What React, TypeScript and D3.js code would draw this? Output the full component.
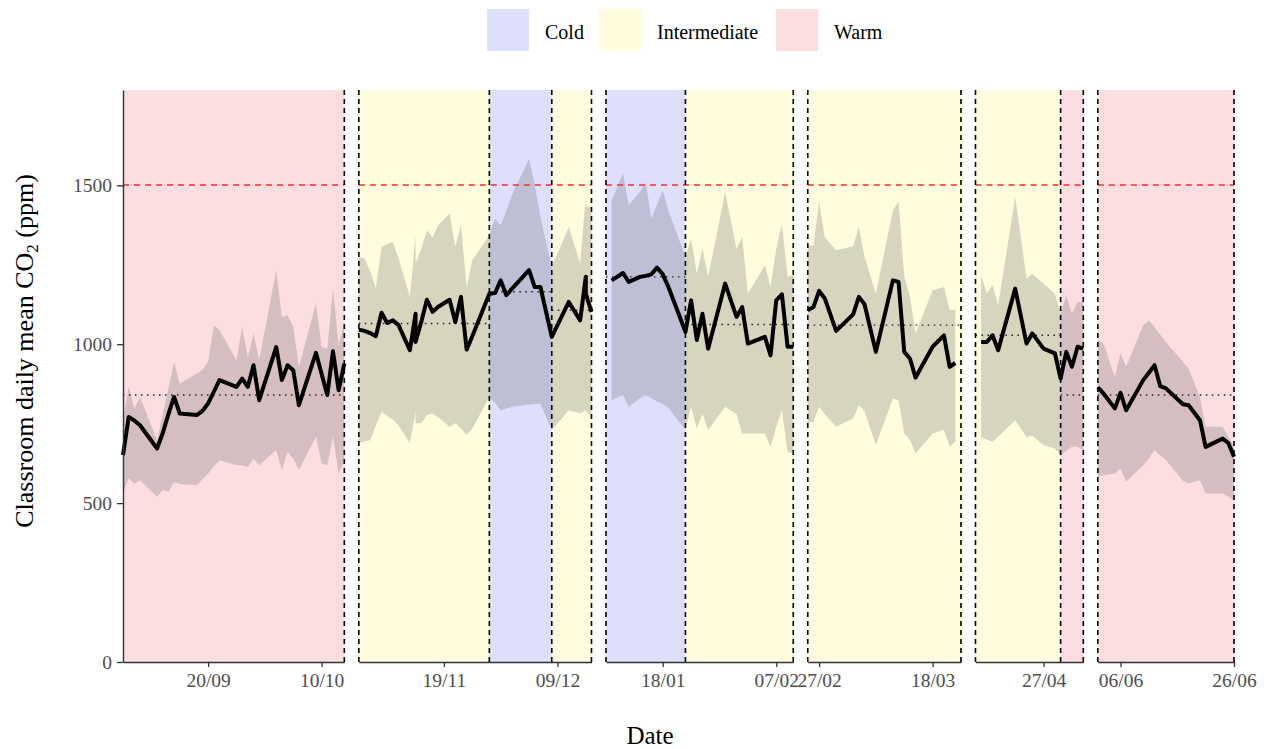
import React, { useEffect, useRef } from "react";
import * as d3 from "d3";

// Seasons used for the background shading
const seasons = ["Cold", "Intermediate", "Warm"];

// Season periods (start, end, season, period mean CO2)
const periodStart = ["2023-09-05", "2023-11-04", "2023-11-27", "2023-12-08", "2024-01-08", "2024-01-22", "2024-02-25", "2024-04-15", "2024-04-30", "2024-06-02"];
const periodEnd = ["2023-10-14", "2023-11-27", "2023-12-08", "2023-12-15", "2024-01-22", "2024-02-10", "2024-03-23", "2024-04-30", "2024-05-04", "2024-06-26"];
const periodSeason = ["Warm", "Intermediate", "Cold", "Intermediate", "Cold", "Intermediate", "Intermediate", "Intermediate", "Warm", "Warm"];
const periodMean = [840, 1065, 1165, 1107, 1212, 1062, 1060, 1028, 840, 840];

// Daily classroom CO2: dates, mean, lower and upper band
const dates = [
  "2023-09-05", "2023-09-06", "2023-09-07", "2023-09-08", "2023-09-11", "2023-09-12", "2023-09-13", "2023-09-14", "2023-09-15",
  "2023-09-18", "2023-09-19", "2023-09-20", "2023-09-21", "2023-09-22", "2023-09-25", "2023-09-26", "2023-09-27", "2023-09-28",
  "2023-09-29", "2023-10-02", "2023-10-03", "2023-10-04", "2023-10-05", "2023-10-06", "2023-10-09", "2023-10-10", "2023-10-11",
  "2023-10-12", "2023-10-13", "2023-10-14",
  "2023-11-04", "2023-11-05", "2023-11-06", "2023-11-07", "2023-11-08", "2023-11-09", "2023-11-10", "2023-11-11", "2023-11-13",
  "2023-11-14", "2023-11-14", "2023-11-15", "2023-11-16", "2023-11-17", "2023-11-18", "2023-11-20", "2023-11-21", "2023-11-22",
  "2023-11-23", "2023-11-24", "2023-11-27", "2023-11-28", "2023-11-29", "2023-11-30", "2023-12-01", "2023-12-04", "2023-12-05",
  "2023-12-06", "2023-12-08", "2023-12-11", "2023-12-13", "2023-12-14", "2023-12-14", "2023-12-15",
  "2024-01-09", "2024-01-11", "2024-01-12", "2024-01-14", "2024-01-15", "2024-01-16", "2024-01-17", "2024-01-18", "2024-01-19",
  "2024-01-22", "2024-01-23", "2024-01-24", "2024-01-25", "2024-01-26", "2024-01-29", "2024-01-31", "2024-02-01", "2024-02-02",
  "2024-02-05", "2024-02-06", "2024-02-07", "2024-02-08", "2024-02-09", "2024-02-10",
  "2024-02-25", "2024-02-26", "2024-02-27", "2024-02-28", "2024-03-01", "2024-03-04", "2024-03-05", "2024-03-06", "2024-03-08",
  "2024-03-11", "2024-03-12", "2024-03-13", "2024-03-14", "2024-03-15", "2024-03-18", "2024-03-20", "2024-03-21", "2024-03-22",
  "2024-04-16", "2024-04-17", "2024-04-18", "2024-04-19", "2024-04-22", "2024-04-24", "2024-04-25", "2024-04-27", "2024-04-29",
  "2024-04-30", "2024-05-01", "2024-05-02", "2024-05-03", "2024-05-04",
  "2024-06-02", "2024-06-03", "2024-06-05", "2024-06-06", "2024-06-07", "2024-06-10", "2024-06-11", "2024-06-12", "2024-06-13",
  "2024-06-14", "2024-06-17", "2024-06-18", "2024-06-20", "2024-06-21", "2024-06-24", "2024-06-25", "2024-06-26",
];
const meanCO2 = [
  651, 771, 760, 745, 672, 720, 780, 834, 782,
  777, 790, 814, 850, 887, 866, 892, 866, 934,
  824, 991, 887, 934, 918, 808, 973, 906, 840,
  978, 855, 939,
  1046, 1042, 1035, 1025, 1099, 1067, 1075, 1060, 981,
  1096, 1007, 1070, 1140, 1102, 1118, 1140, 1070, 1149,
  983, 1025, 1159, 1161, 1201, 1154, 1175, 1233, 1180,
  1180, 1023, 1133, 1075, 1212, 1159, 1102,
  1201, 1224, 1196, 1212, 1215, 1220, 1241, 1220, 1180,
  1039, 1138, 1013, 1096, 986, 1191, 1086, 1117, 1002,
  1023, 965, 1138, 1157, 992, 992,
  1107, 1117, 1168, 1144, 1042, 1094, 1149, 1126, 976,
  1201, 1196, 976, 955, 895, 992, 1028, 929, 941,
  1007, 1007, 1028, 981, 1175, 1002, 1034, 986, 971,
  892, 976, 929, 992, 986,
  864, 845, 798, 847, 792, 887, 910, 934, 868,
  861, 811, 808, 761, 677, 703, 689, 646,
];
const lowCO2 = [
  530, 578, 562, 572, 520, 541, 536, 567, 560,
  557, 575, 593, 615, 635, 620, 619, 614, 640,
  619, 667, 604, 661, 640, 604, 709, 625, 619,
  709, 593, 630,
  688, 695, 698, 745, 787, 775, 762, 745, 688,
  787, 751, 751, 777, 782, 770, 740, 751, 735,
  714, 735, 834, 815, 792, 798, 803, 810, 812,
  813, 730, 792, 782, 792, 790, 770,
  824, 840, 803, 830, 840, 830, 820, 813, 800,
  730, 803, 735, 782, 730, 803, 780, 719, 719,
  719, 677, 740, 792, 661, 656,
  751, 756, 803, 780, 740, 766, 808, 790, 682,
  829, 824, 719, 700, 656, 719, 730, 677, 693,
  708, 700, 693, 710, 761, 708, 713, 682, 672,
  651, 665, 677, 677, 667,
  583, 588, 593, 609, 567, 619, 640, 667, 650,
  635, 570, 562, 572, 530, 530, 520, 509,
];
const highCO2 = [
  760, 866, 798, 834, 698, 780, 860, 944, 876,
  908, 920, 945, 1060, 1044, 950, 1054, 960, 1034,
  950, 1233, 1086, 1091, 1054, 929, 1128, 992, 986,
  1175, 997, 1075,
  1275, 1270, 1230, 1175, 1306, 1315, 1322, 1270, 1149,
  1343, 1254, 1300, 1358, 1337, 1375, 1411, 1306, 1374,
  1180, 1264, 1343, 1395, 1374, 1420, 1470, 1584, 1500,
  1400, 1243, 1369, 1254, 1469, 1432, 1432,
  1453, 1537, 1437, 1480, 1510, 1395, 1440, 1484, 1420,
  1275, 1332, 1222, 1301, 1212, 1479, 1300, 1337, 1159,
  1248, 1180, 1300, 1379, 1212, 1218,
  1311, 1311, 1448, 1337, 1296, 1308, 1369, 1275, 1159,
  1421, 1448, 1212, 1150, 1034, 1170, 1180, 1107, 1109,
  1217, 1159, 1186, 1123, 1463, 1207, 1222, 1190, 1159,
  1097, 1154, 1097, 1133, 1133,
  1013, 1002, 897, 971, 929, 1060, 1075, 1054, 1030,
  1007, 945, 923, 834, 740, 740, 710, 677,
];

// Axis ticks
const xTickDates = ["2023-09-20", "2023-10-10", "2023-11-19", "2023-12-09", "2024-01-18", "2024-02-07", "2024-02-27", "2024-03-18", "2024-04-27", "2024-06-06", "2024-06-26"];
const yTicks = [0, 500, 1000, 1500];
const yMax = 1800;
const threshold = 1500;

const seasonFill: Record<string, string> = { Cold: "#DEDEFD", Intermediate: "#FFFDDE", Warm: "#FDDEE0" };

function App() {
  const ref = useRef<SVGSVGElement>(null);

  useEffect(() => {
    const svg = d3.select(ref.current);
    svg.selectAll("*").remove();

    const parse = d3.timeParse("%Y-%m-%d");
    const left = 123, right = 1234, top = 90, bottom = 662;
    const gap = 14.5;
    const font = "'Liberation Serif', 'Times New Roman', serif";

    const periods = periodStart.map((s, i) => ({
      start: parse(s)!, end: parse(periodEnd[i])!, season: periodSeason[i], mean: periodMean[i],
    }));

    // group contiguous periods into panels
    const panels: { start: Date; end: Date; periods: typeof periods }[] = [];
    periods.forEach(p => {
      const last = panels[panels.length - 1];
      if (last && +last.end === +p.start) {
        last.end = p.end;
        last.periods.push(p);
      } else {
        panels.push({ start: p.start, end: p.end, periods: [p] });
      }
    });

    const totalDays = d3.sum(panels, p => d3.timeDay.count(p.start, p.end));
    const pxPerDay = (right - left - gap * (panels.length - 1)) / totalDays;

    const rows = dates.map((d, i) => ({ date: parse(d)!, mean: meanCO2[i], lo: lowCO2[i], hi: highCO2[i] }));

    const y = d3.scaleLinear().domain([0, yMax]).range([bottom, top]);

    let x0 = left;
    panels.forEach((panel, pi) => {
      const w = d3.timeDay.count(panel.start, panel.end) * pxPerDay;
      const x = d3.scaleTime().domain([panel.start, panel.end]).range([x0, x0 + w]);
      x0 += w + gap;
      const g = svg.append("g");

      // season backgrounds
      g.selectAll("rect.bg")
        .data(panel.periods)
        .join("rect")
        .attr("x", d => x(d.start))
        .attr("y", top)
        .attr("width", d => x(d.end) - x(d.start))
        .attr("height", bottom - top)
        .attr("fill", d => seasonFill[d.season]);

      const pts = rows.filter(r => r.date >= panel.start && r.date <= panel.end);

      // ribbon
      g.append("path")
        .datum(pts)
        .attr("d", d3.area<any>().x(d => x(d.date)).y0(d => y(d.lo)).y1(d => y(d.hi)))
        .attr("fill", "#606060")
        .attr("fill-opacity", 0.25);

      // threshold
      const ty = Math.round(y(threshold));
      g.append("line")
        .attr("x1", x.range()[0]).attr("x2", x.range()[1])
        .attr("y1", ty).attr("y2", ty)
        .attr("stroke", "#FF2A2A")
        .attr("stroke-width", 1.6)
        .attr("stroke-dasharray", "6,5");

      // period means
      g.selectAll("line.pm")
        .data(panel.periods)
        .join("line")
        .attr("x1", d => x(d.start)).attr("x2", d => x(d.end))
        .attr("y1", d => y(d.mean)).attr("y2", d => y(d.mean))
        .attr("stroke", "#222")
        .attr("stroke-width", 1.4)
        .attr("stroke-dasharray", "1.5,4.5");

      // mean line
      g.append("path")
        .datum(pts)
        .attr("d", d3.line<any>().x(d => x(d.date)).y(d => y(d.mean)))
        .attr("fill", "none")
        .attr("stroke", "#000")
        .attr("stroke-width", 4)
        .attr("stroke-linejoin", "round");

      // period boundaries
      const bounds = Array.from(new Set(panel.periods.flatMap(p => [+p.start, +p.end])));
      g.selectAll("line.vb")
        .data(bounds.filter(b => !(pi === 0 && b === +panel.start)))
        .join("line")
        .attr("x1", d => x(new Date(d))).attr("x2", d => x(new Date(d)))
        .attr("y1", top).attr("y2", bottom)
        .attr("stroke", "#000")
        .attr("stroke-width", 1.6)
        .attr("stroke-dasharray", "5,4");

      // x axis
      const ticks = xTickDates.map(t => parse(t)!).filter(t => t >= panel.start && t <= panel.end);
      const ax = g.append("g")
        .attr("transform", `translate(0,${bottom})`)
        .call(d3.axisBottom(x).tickValues(ticks).tickFormat(d3.timeFormat("%d/%m") as any).tickSize(5).tickSizeOuter(0).tickPadding(6));
      ax.select(".domain").attr("stroke", "#333").attr("stroke-width", 1.3);
      ax.selectAll(".tick line").attr("stroke", "#333").attr("stroke-width", 1.3);
      ax.selectAll(".tick text").attr("fill", "#4D4D4D").attr("font-size", 19.5).attr("font-family", font);
    });

    // y axis
    const ay = svg.append("g")
      .attr("transform", `translate(${left},0)`)
      .call(d3.axisLeft(y).tickValues(yTicks).tickFormat(d3.format("d") as any).tickSize(6).tickSizeOuter(0).tickPadding(5));
    ay.select(".domain").attr("stroke", "#333").attr("stroke-width", 1.4);
    ay.selectAll(".tick line").attr("stroke", "#333").attr("stroke-width", 1.3);
    ay.selectAll(".tick text").attr("fill", "#4D4D4D").attr("font-size", 19.5).attr("font-family", font);

    // axis titles
    svg.append("text")
      .attr("x", 650).attr("y", 744)
      .attr("text-anchor", "middle")
      .attr("font-family", font).attr("font-size", 25)
      .text("Date");

    const yt = svg.append("text")
      .attr("transform", "translate(33,351) rotate(-90)")
      .attr("text-anchor", "middle")
      .attr("font-family", font).attr("font-size", 26);
    yt.append("tspan").text("Classroom daily mean CO");
    yt.append("tspan").attr("font-size", 17).attr("dy", 5).text("2");
    yt.append("tspan").attr("dy", -5).text(" (ppm)");

    // legend
    const legX = [487, 599, 776];
    const lg = svg.append("g");
    seasons.forEach((s, i) => {
      lg.append("rect")
        .attr("x", legX[i]).attr("y", 9)
        .attr("width", 42).attr("height", 42)
        .attr("fill", seasonFill[s]);
      lg.append("text")
        .attr("x", legX[i] + 58).attr("y", 39)
        .attr("font-family", font).attr("font-size", 20)
        .text(s);
    });
  }, []);

  return (
    <svg ref={ref} width={1272} height={749} style={{ position: "absolute", left: 0, top: 0, display: "block", background: "#fff" }} />
  );
}

export default App;
